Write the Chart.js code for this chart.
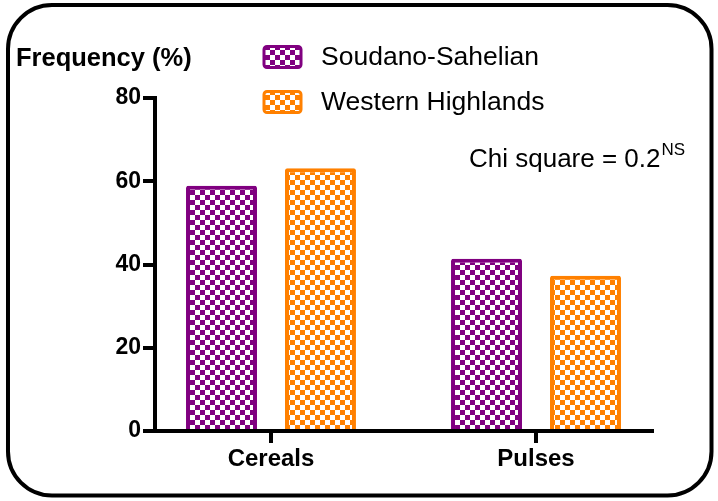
<!DOCTYPE html>
<html><head><meta charset="utf-8">
<script src="https://cdn.jsdelivr.net/npm/chart.js@4/dist/chart.umd.min.js"></script>
<style>html,body{margin:0;padding:0;background:#fff;}canvas{display:block;}</style>
</head><body>
<canvas id="c" width="718" height="501"></canvas>
<script>
// ---- data ----
const categories = ['Cereals', 'Pulses'];
const seriesNames = ['Soudano-Sahelian', 'Western Highlands'];
const soudanoSahelian = [58.9, 41.4];
const westernHighlands = [63.1, 37.3];
const yTicks = [0, 20, 40, 60, 80];
const yAxisTitle = 'Frequency (%)';
const annotationMain = 'Chi square = 0.2';
const annotationSup = 'NS';

// ---- style ----
const PURPLE = '#800080', ORANGE = '#FF8000';
const FONT = '"Liberation Sans", Arial, Helvetica, sans-serif';
const canvas = document.getElementById('c');
const ctx0 = canvas.getContext('2d');
function checker(color){
  const c = document.createElement('canvas'); c.width = 10; c.height = 10;
  const g = c.getContext('2d');
  g.fillStyle = '#fff'; g.fillRect(0,0,10,10);
  g.fillStyle = color; g.fillRect(0,0,5,5); g.fillRect(5,5,5,5);
  return ctx0.createPattern(c, 'repeat');
}
const patterns = [checker(PURPLE), checker(ORANGE)];
const colors = [PURPLE, ORANGE];

function rr(ctx, x, y, w, h, r){
  ctx.beginPath();
  ctx.moveTo(x + r, y);
  ctx.arcTo(x + w, y, x + w, y + h, r);
  ctx.arcTo(x + w, y + h, x, y + h, r);
  ctx.arcTo(x, y + h, x, y, r);
  ctx.arcTo(x, y, x + w, y, r);
  ctx.closePath();
}

const decor = {
  id: 'decor',
  afterDraw(chart){
    const ctx = chart.ctx;
    ctx.save();
    // frame
    ctx.lineWidth = 4; ctx.strokeStyle = '#000';
    rr(ctx, 8, 5, 703.5, 490.5, 44); ctx.stroke();
    // axis title
    ctx.fillStyle = '#000';
    ctx.textBaseline = 'middle'; ctx.textAlign = 'left';
    ctx.font = 'bold 25.5px ' + FONT;
    ctx.fillText(yAxisTitle, 16, 59);
    // legend
    ctx.font = '26.5px ' + FONT;
    chart.data.datasets.forEach((ds, i) => {
      const y = 45 + i * 45;
      rr(ctx, 264, y + 1.5, 37, 21, 3);
      ctx.fillStyle = patterns[i]; ctx.fill();
      ctx.lineWidth = 3; ctx.strokeStyle = colors[i]; ctx.stroke();
      ctx.fillStyle = '#000';
      ctx.fillText(ds.label, 321, y + 13);
    });
    // annotation
    ctx.font = '26px ' + FONT;
    ctx.fillText(annotationMain, 469, 160);
    const w = ctx.measureText(annotationMain).width;
    ctx.font = '17px ' + FONT;
    ctx.fillText(annotationSup, 469 + w + 1, 150);
    ctx.restore();
  }
};

const ds = [soudanoSahelian, westernHighlands].map((vals, i) => ({
  label: seriesNames[i],
  data: categories.map((c, k) => ({x: k, y: vals[k]})),
  backgroundColor: patterns[i],
  borderColor: colors[i],
  borderWidth: 4,
  borderRadius: 2,
  categoryPercentage: 0.747,
  barPercentage: 0.717
}));

new Chart(canvas, {
  type: 'bar',
  data: { datasets: ds },
  options: {
    responsive: false, animation: false, devicePixelRatio: 1,
    layout: { padding: { top: 98, right: 66, left: 0, bottom: 0 } },
    plugins: { legend: { display: false }, title: { display: false }, tooltip: { enabled: false } },
    scales: {
      x: {
        type: 'linear', min: -0.4377, max: 1.4377, offset: false,
        afterBuildTicks: s => { s.ticks = categories.map((c, k) => ({ value: k })); },
        afterFit: s => { s.height = 70; },
        ticks: { callback: v => categories[v], font: { family: FONT, size: 24, weight: 'bold' }, color: '#000', padding: 2, autoSkip: false, maxRotation: 0 },
        grid: { display: true, offset: false, drawOnChartArea: false, drawTicks: true, tickLength: 12, tickWidth: 4, tickColor: '#000', lineWidth: 4, color: '#000' },
        border: { display: true, color: '#000', width: 4 }
      },
      y: {
        min: 0, max: 80,
        afterBuildTicks: s => { s.ticks = yTicks.map(v => ({ value: v })); },
        afterFit: s => { s.width = 155; },
        ticks: { font: { family: FONT, size: 23, weight: 'bold' }, color: '#000', padding: 2 },
        grid: { display: true, drawOnChartArea: false, drawTicks: true, tickLength: 12, tickWidth: 4, tickColor: '#000', lineWidth: 4, color: '#000' },
        border: { display: true, color: '#000', width: 4 }
      }
    }
  },
  plugins: [decor]
});
</script>
</body></html>
